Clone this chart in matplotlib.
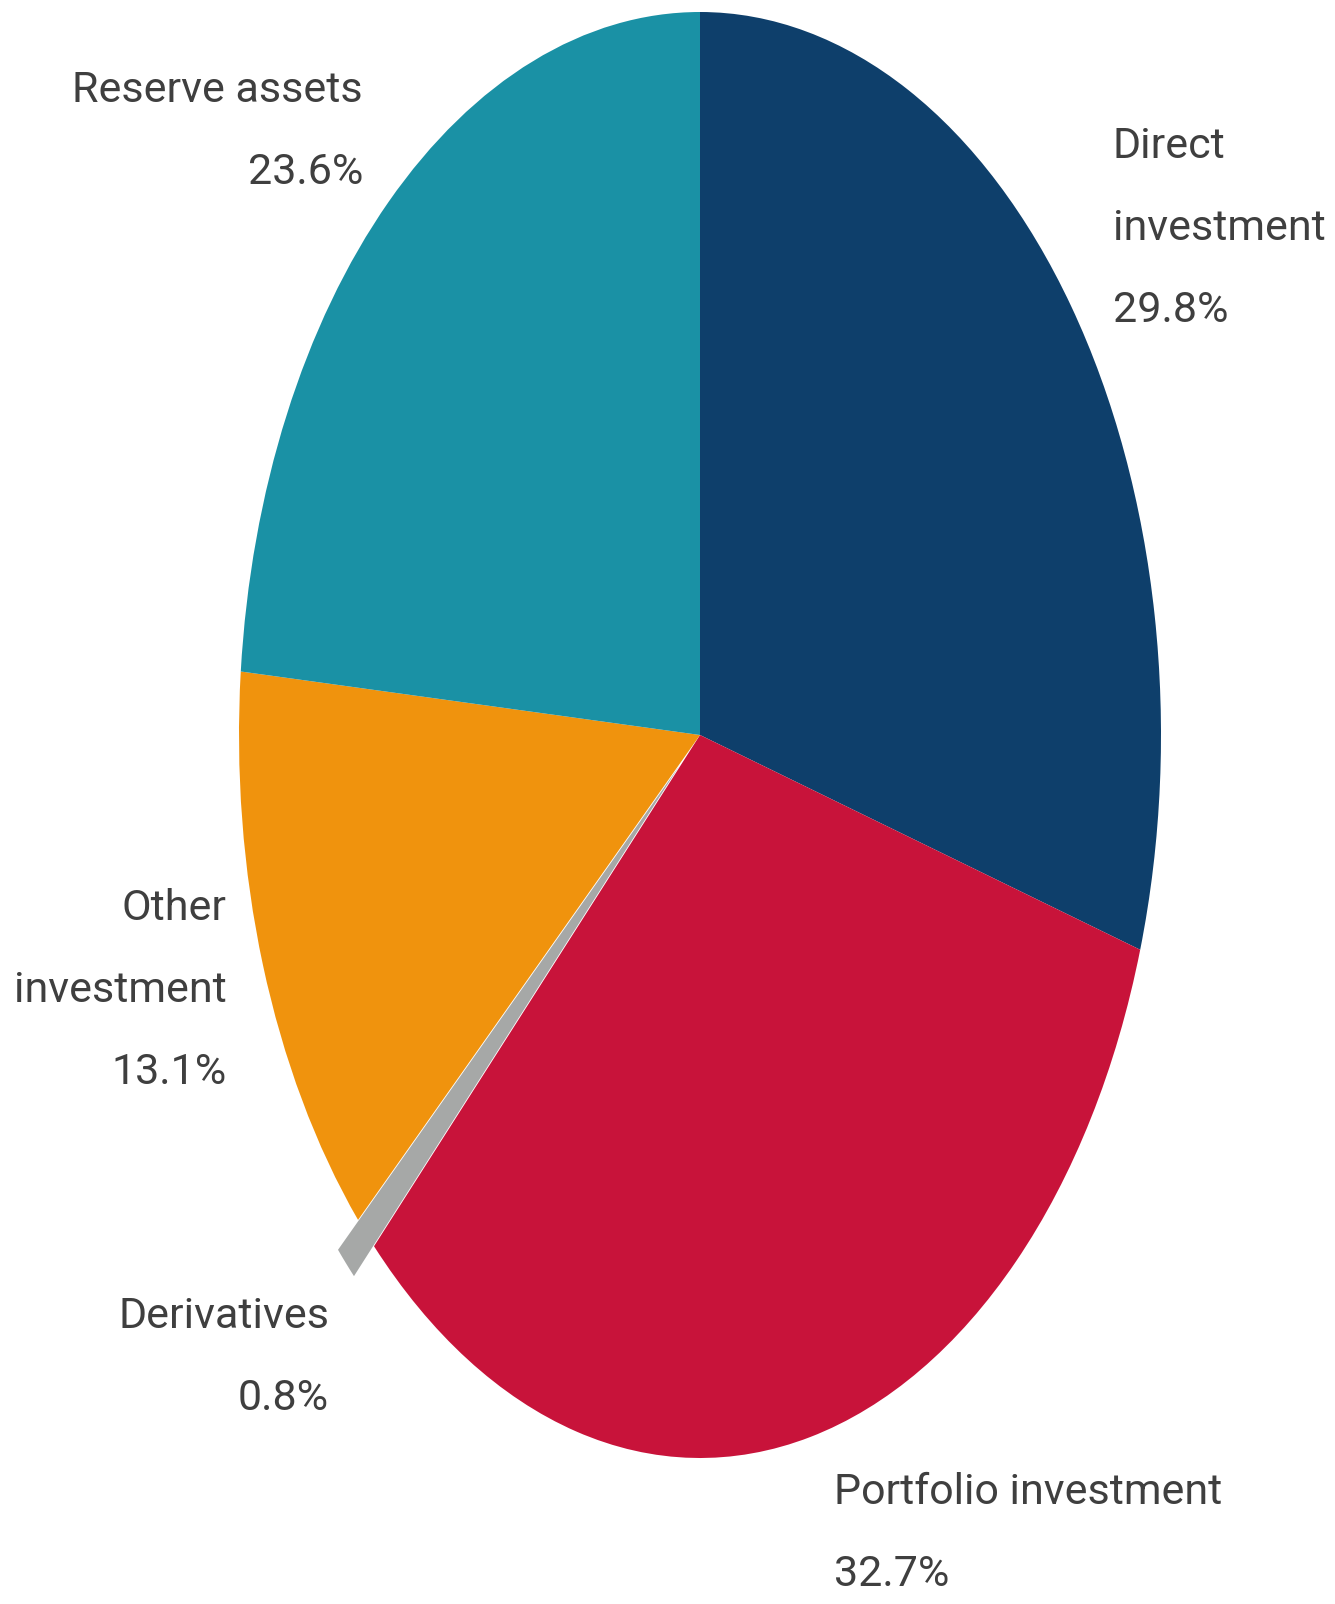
import matplotlib.pyplot as plt

# Data
labels = ['Direct\ninvestment', 'Portfolio investment', 'Derivatives', 'Other\ninvestment', 'Reserve assets']
shares = [29.8, 32.7, 0.8, 13.1, 23.6]
colors = ['#0E3F6B', '#C8133A', '#A6A8A7', '#F0930D', '#1A91A5']
explode = [0, 0, 0.06, 0, 0]

W, H = 1335, 1604
fig = plt.figure(figsize=(W / 100, H / 100), dpi=100)

# axes sized so the unit circle becomes the stretched ellipse of the original
cx, cy, rx, ry = 700, 735, 461, 723
ax = fig.add_axes([(cx - rx) / W, (H - cy - ry) / H, 2 * rx / W, 2 * ry / H])
wedges, _ = ax.pie(shares, colors=colors, explode=explode, startangle=90,
                   counterclock=False, wedgeprops=dict(linewidth=0))
for w in wedges:
    w.set_clip_on(False)
ax.set_aspect('auto')
ax.set_xlim(-1, 1)
ax.set_ylim(-1, 1)
ax.axis('off')

# label positions in pixels (x anchor, y of first line, alignment)
label_pos = [(1113, 146, 'left'), (834, 1492, 'left'), (329, 1317, 'right'),
             (227, 908, 'right'), (363, 90, 'right')]
line_gap = 82

for lab, val, (x, y, ha) in zip(labels, shares, label_pos):
    lines = lab.split('\n') + [f'{val:.1f}%']
    for i, line in enumerate(lines):
        fig.text(x / W, 1 - (y + i * line_gap) / H, line, ha=ha, va='center',
                 fontsize=31, color='#3f3f3f', family='Roboto')

fig.savefig('out.png', dpi=100)
